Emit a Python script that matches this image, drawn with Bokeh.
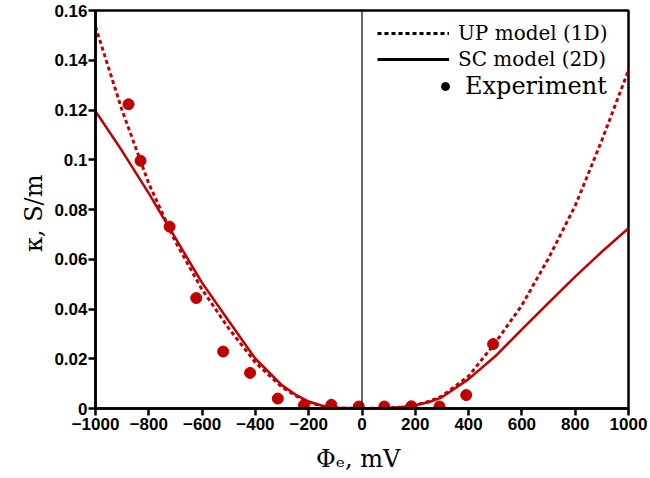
from bokeh.plotting import figure
from bokeh.models import Range1d, Span, Legend, LegendItem, FixedTicker
from bokeh.embed import file_html
from bokeh.resources import INLINE

# ---- data ----
phi_model = [-1000, -900, -800, -700, -600, -500, -400, -300, -250, -200, -150, -100,
             0, 100, 150, 200, 250, 300, 400, 500, 600, 700, 800, 900, 1000]
kappa_up = [0.1535, 0.1198, 0.0904, 0.0670, 0.0478, 0.0322, 0.0185, 0.0085, 0.0052, 0.0025,
            0.0010, 0.0002, 0.0, 0.0002, 0.0006, 0.0014, 0.0028, 0.0050, 0.0130, 0.0264,
            0.0415, 0.0604, 0.0815, 0.1078, 0.1360]
kappa_sc = [0.1195, 0.1035, 0.0865, 0.0685, 0.0505, 0.0352, 0.0200, 0.0093, 0.0056, 0.0028,
            0.0011, 0.0003, 0.0, 0.0002, 0.0006, 0.0013, 0.0025, 0.0045, 0.0118, 0.0210,
            0.0318, 0.0425, 0.0530, 0.0630, 0.0725]
phi_exp = [-876, -831, -722, -622, -521, -420, -316, -218, -115, -12, 84, 185, 291, 391, 492]
kappa_exp = [0.1223, 0.0996, 0.0731, 0.0444, 0.0229, 0.0143, 0.0040, 0.0013, 0.0015, 0.0008,
             0.0008, 0.0009, 0.0008, 0.0054, 0.0259]

x_ticks = [-1000, -800, -600, -400, -200, 0, 200, 400, 600, 800, 1000]
x_tick_labels = ["\u22121000", "\u2212800", "\u2212600", "\u2212400", "\u2212200", "0",
                 "200", "400", "600", "800", "1000"]
y_ticks = [0, 0.02, 0.04, 0.06, 0.08, 0.1, 0.12, 0.14, 0.16]
y_tick_labels = ["0", "0.02", "0.04", "0.06", "0.08", "0.1", "0.12", "0.14", "0.16"]

legend_labels = ["UP model (1D)", "SC model (2D)", "Experiment"]

RED = "#c00000"
TICK_FONT = "Liberation Sans"
SERIF = "DejaVu Serif"
NAN = float("nan")

p = figure(width=648, height=478, output_backend="svg", toolbar_location=None,
           x_range=Range1d(-1000, 1000), y_range=Range1d(0, 0.16),
           min_border_left=95, min_border_right=20, min_border_top=10, min_border_bottom=70)
p.xgrid.visible = False
p.ygrid.visible = False
p.outline_line_color = "black"
p.outline_line_width = 2.5
p.background_fill_color = "white"
p.border_fill_color = "white"

p.xaxis.ticker = FixedTicker(ticks=x_ticks)
p.xaxis.major_label_overrides = dict(zip(x_ticks, x_tick_labels))
p.yaxis.ticker = FixedTicker(ticks=y_ticks)
p.yaxis.major_label_overrides = dict(zip(y_ticks, y_tick_labels))

for ax in (p.xaxis[0], p.yaxis[0]):
    ax.axis_line_width = 2.5
    ax.axis_line_color = "black"
    ax.major_tick_line_width = 2.5
    ax.major_tick_line_color = "black"
    ax.major_tick_out = 7
    ax.major_tick_in = 0
    ax.minor_tick_line_color = None
    ax.major_label_text_font = TICK_FONT
    ax.major_label_text_font_style = "bold"
    ax.major_label_text_font_size = "17px"
    ax.major_label_text_color = "black"
    ax.axis_label_text_font = SERIF
    ax.axis_label_text_font_style = "normal"
    ax.axis_label_text_font_size = "24px"
    ax.axis_label_text_color = "black"

p.xaxis.axis_label = "\u03a6\u2091,  mV"
p.yaxis.axis_label = "\u03ba,  S/m"
p.xaxis.major_label_standoff = 2
p.xaxis.axis_label_standoff = 12
p.yaxis.major_label_standoff = 1
p.yaxis.axis_label_standoff = 3

p.add_layout(Span(location=0, dimension="height", line_color="black", line_width=1.2))

p.line(phi_model, kappa_up, line_color=RED, line_width=3, line_dash="4 3")
p.line(phi_model, kappa_sc, line_color=RED, line_width=2.5)
p.scatter(phi_exp, kappa_exp, size=11, fill_color=RED, line_color=RED)

# legend proxies (black, one undrawable NaN point so the legend glyph renders)
leg_up = p.line([NAN], [NAN], line_color="black", line_width=3, line_dash="4 3")
leg_sc = p.line([NAN], [NAN], line_color="black", line_width=3)
leg_exp = p.scatter([NAN], [NAN], size=10, fill_color="black", line_color="black")

legend1 = Legend(items=[LegendItem(label=legend_labels[0], renderers=[leg_up]),
                        LegendItem(label=legend_labels[1], renderers=[leg_sc])],
                 location=(282, 337), glyph_width=72, glyph_height=22, label_height=22,
                 spacing=2, padding=0, margin=0, label_standoff=9,
                 border_line_color=None, background_fill_alpha=0,
                 label_text_font=SERIF, label_text_font_size="20px",
                 label_text_color="black")
legend2 = Legend(items=[LegendItem(label=legend_labels[2], renderers=[leg_exp])],
                 location=(340, 308), glyph_width=20, glyph_height=28, label_height=28,
                 spacing=0, padding=0, margin=0, label_standoff=10,
                 border_line_color=None, background_fill_alpha=0,
                 label_text_font=SERIF, label_text_font_size="24px",
                 label_text_color="black")
p.add_layout(legend1)
p.add_layout(legend2)

open("out.html", "w").write(file_html(p, INLINE))
